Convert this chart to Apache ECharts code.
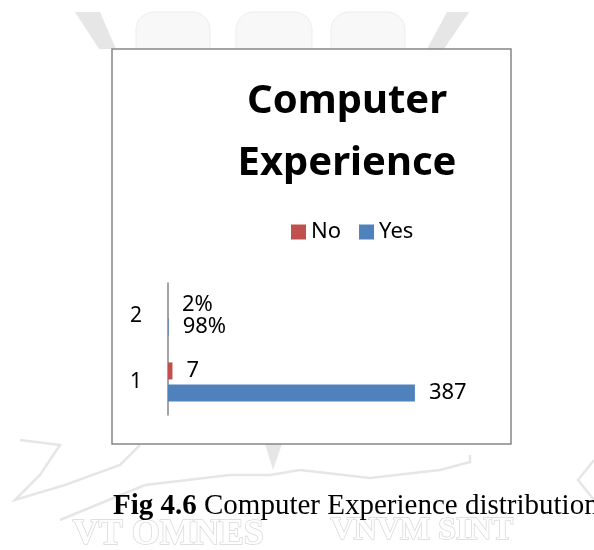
<!DOCTYPE html>
<html>
<head>
<meta charset="utf-8">
<script src="https://cdn.jsdelivr.net/npm/echarts@6/dist/echarts.min.js"></script>
<style>
  html, body { margin: 0; padding: 0; background: #fff; }
  #app { width: 594px; height: 550px; }
</style>
</head>
<body>
<div id="app"></div>
<script>
// data
const categories = ['1', '2'];
const seriesNames = ['No', 'Yes'];
const noValues = [7, 0.02];
const yesValues = [387, 0.98];
const noLabels = ['7', '2%'];
const yesLabels = ['387', '98%'];

const myChart = echarts.init(document.getElementById('app'));
const font = '"Noto Sans", sans-serif';
const wm = '#e6e6e6';

const labelOf = texts => ({
    show: true,
    position: 'right',
    distance: 14,
    color: '#000',
    fontSize: 22,
    fontFamily: font,
    formatter: p => texts[p.dataIndex]
});

const option = {
    animation: false,
    backgroundColor: '#fff',
    title: {
        text: 'Computer\nExperience',
        left: 342,
        top: 66,
        textAlign: 'center',
        textStyle: {
            fontFamily: font,
            fontWeight: 'bold',
            fontSize: 40,
            lineHeight: 62,
            color: '#000'
        }
    },
    legend: {
        data: seriesNames,
        left: 286,
        top: 216,
        icon: 'rect',
        itemWidth: 15,
        itemHeight: 15,
        itemGap: 18,
        textStyle: { fontFamily: font, fontSize: 22, color: '#000' }
    },
    grid: { left: 168, top: 283, width: 319, height: 132, containLabel: false },
    xAxis: {
        type: 'value',
        min: 0,
        max: 500,
        show: false
    },
    yAxis: {
        type: 'category',
        data: categories,
        axisLine: { lineStyle: { color: '#868686', width: 1.5 } },
        axisTick: { show: false },
        axisLabel: { margin: 26, fontFamily: font, fontSize: 21, color: '#000' }
    },
    series: [
        {
            name: 'No',
            type: 'bar',
            data: noValues,
            barWidth: 17,
            barGap: '30%',
            itemStyle: { color: '#C0504D' },
            label: labelOf(noLabels)
        },
        {
            name: 'Yes',
            type: 'bar',
            data: yesValues,
            barWidth: 17,
            barGap: '30%',
            itemStyle: { color: '#4F81BD' },
            label: labelOf(yesLabels)
        }
    ],
    graphic: [
        // faint watermark behind the chart
        { type: 'polygon', z: -20, shape: { points: [[75, 12], [100, 12], [116, 49], [99, 49]] }, style: { fill: wm } },
        { type: 'polygon', z: -20, shape: { points: [[447, 12], [469, 12], [444, 49], [427, 49]] }, style: { fill: wm } },
        { type: 'rect', z: -20, shape: { x: 136, y: 12, width: 74, height: 40, r: [18, 18, 0, 0] }, style: { fill: '#f8f8f8', stroke: '#ededed' } },
        { type: 'rect', z: -20, shape: { x: 236, y: 12, width: 76, height: 40, r: [18, 18, 0, 0] }, style: { fill: '#f8f8f8', stroke: '#ededed' } },
        { type: 'rect', z: -20, shape: { x: 331, y: 12, width: 74, height: 40, r: [18, 18, 0, 0] }, style: { fill: '#f8f8f8', stroke: '#ededed' } },
        { type: 'polyline', z: -20, shape: { points: [[20, 440], [60, 445], [40, 475], [15, 500], [65, 485], [120, 465], [140, 445]] }, style: { stroke: wm, lineWidth: 2.5, fill: null } },
        { type: 'polyline', z: -20, shape: { points: [[60, 520], [145, 485], [230, 475], [270, 475], [300, 470]] }, style: { stroke: wm, lineWidth: 2.5, fill: null } },
        { type: 'polyline', z: -20, shape: { points: [[300, 470], [370, 478], [440, 470], [470, 462], [470, 455]] }, style: { stroke: wm, lineWidth: 2.5, fill: null } },
        { type: 'polygon', z: -20, shape: { points: [[265, 444], [282, 444], [273, 470]] }, style: { fill: wm } },
        { type: 'polyline', z: -20, shape: { points: [[594, 460], [578, 480], [594, 500]] }, style: { stroke: wm, lineWidth: 2.5, fill: null } },
        {
            type: 'text', z: -20, left: 72, top: 516,
            style: { text: 'VT OMNES', font: 'bold 36px "Liberation Serif", serif', fill: '#fff', stroke: '#d8d8d8', lineWidth: 1.5 }
        },
        {
            type: 'text', z: -20, left: 330, top: 514,
            style: { text: 'VNVM SINT', font: 'bold 32px "Liberation Serif", serif', fill: '#fff', stroke: '#d8d8d8', lineWidth: 1.5 }
        },
        // chart box
        {
            type: 'rect', z: -10,
            shape: { x: 112, y: 49, width: 399, height: 395 },
            style: { fill: '#fff', stroke: '#878787', lineWidth: 1.5 }
        },
        // figure caption
        {
            type: 'text', z: 10, left: 113, top: 492,
            style: {
                text: '{b|Fig 4.6} Computer Experience distribution',
                font: '29px "Liberation Serif", serif',
                fill: '#000',
                rich: { b: { fontWeight: 'bold', fontSize: 29, fontFamily: '"Liberation Serif", serif' } }
            }
        }
    ]
};

myChart.setOption(option);
</script>
</body>
</html>
